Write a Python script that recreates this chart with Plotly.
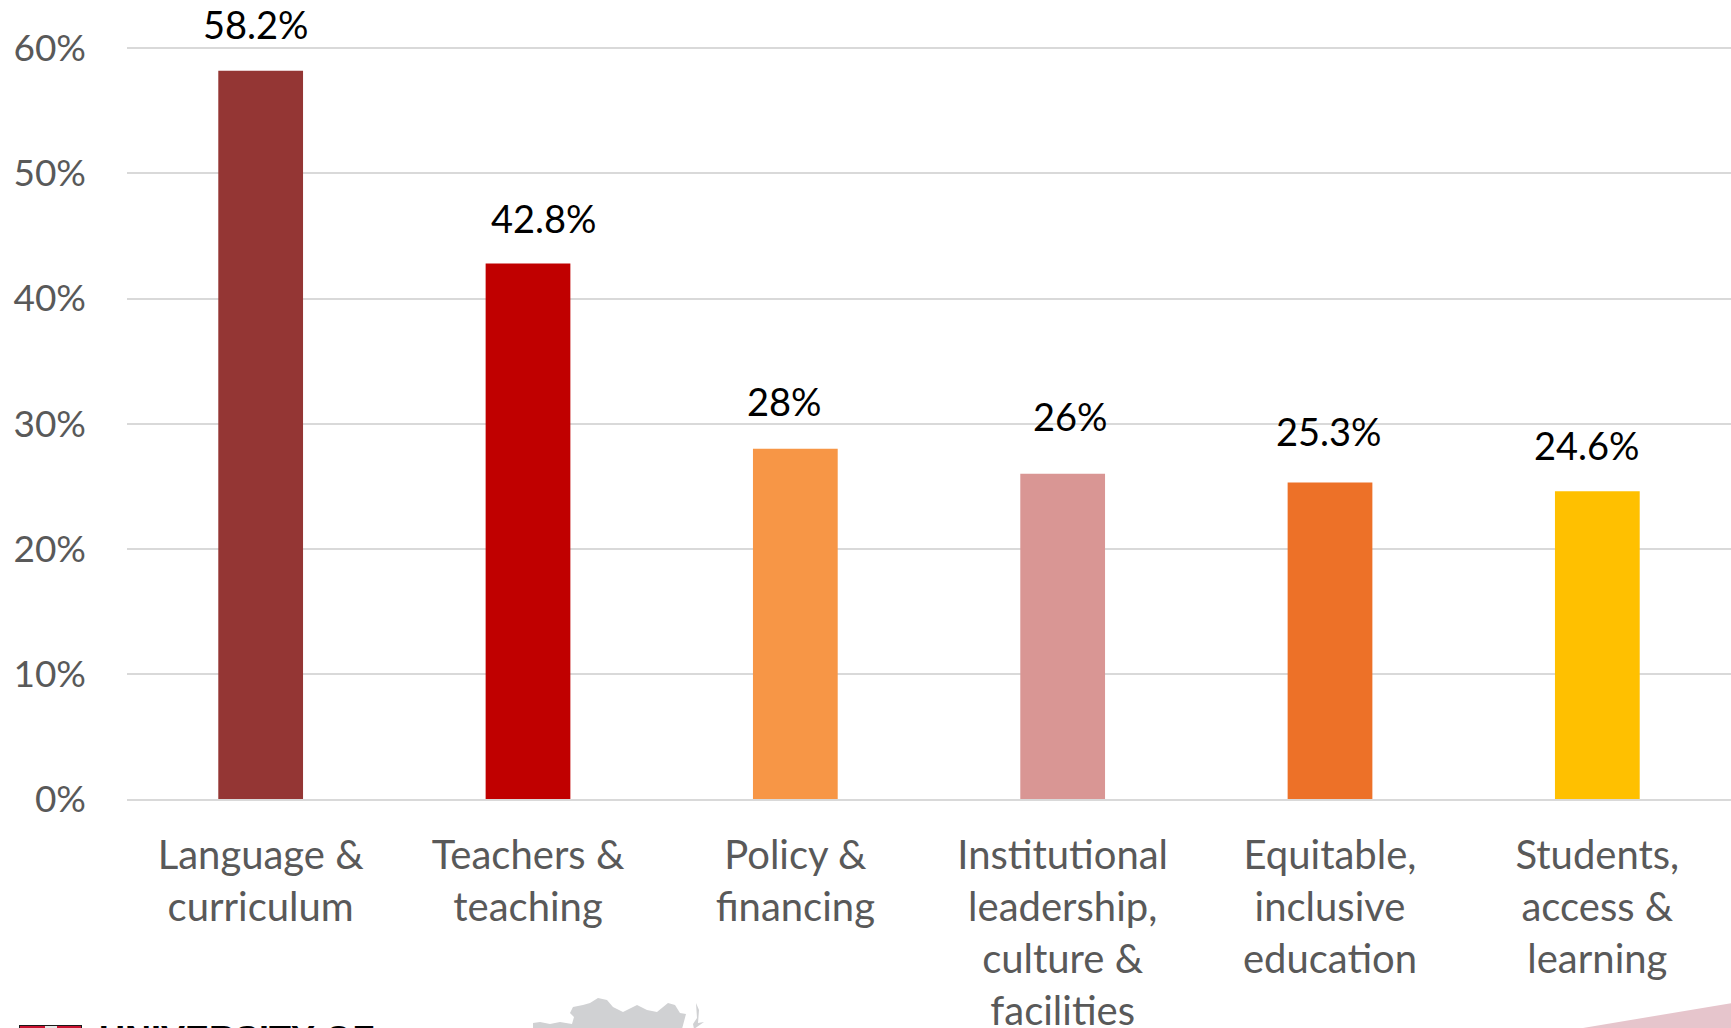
import plotly.graph_objects as go

categories = [
    "Language &<br>curriculum",
    "Teachers &<br>teaching",
    "Policy &<br>financing",
    "Institutional<br>leadership,<br>culture &<br>facilities",
    "Equitable,<br>inclusive<br>education",
    "Students,<br>access &<br>learning",
]
values = [58.2, 42.8, 28, 26, 25.3, 24.6]
value_labels = ["58.2%", "42.8%", "28%", "26%", "25.3%", "24.6%"]
bar_colors = ["#943634", "#C00000", "#F79646", "#D99694", "#ED7128", "#FFC000"]
y_ticks = [0, 10, 20, 30, 40, 50, 60]
y_tick_labels = ["0%", "10%", "20%", "30%", "40%", "50%", "60%"]

# labels were hand-dragged in the original, so they sit a bit off the bars
label_xshift = [-5, 16, -11, 8, -1, -10]
label_yshift = [22, 20, 23, 33, 26, 21]

FONT = "Lato"

# plot area edges in page pixels, used for the cropped slide bits below
PLOT_L, PLOT_R, PLOT_T, PLOT_B = 127, 1731, 47, 799


def px(x, y):
    return (x - PLOT_L) / (PLOT_R - PLOT_L), (PLOT_B - y) / (PLOT_B - PLOT_T)


def poly(points):
    coords = [px(x, y) for x, y in points]
    return "M " + " L ".join(f"{a:.5f} {b:.5f}" for a, b in coords) + " Z"


def box(x0, y0, x1, y1, color):
    a0, b0 = px(x0, y0)
    a1, b1 = px(x1, y1)
    fig.add_shape(type="rect", xref="paper", yref="paper", x0=a0, y0=b0, x1=a1, y1=b1,
                  fillcolor=color, line_width=0)


fig = go.Figure()

fig.add_trace(go.Bar(
    x=categories,
    y=values,
    width=0.317,
    marker_color=bar_colors,
    marker_line_width=0,
))

for i, v in enumerate(values):
    fig.add_annotation(
        x=categories[i], y=v, text=value_labels[i], showarrow=False,
        yanchor="bottom", xshift=label_xshift[i], yshift=label_yshift[i],
        font=dict(family=FONT, size=38, color="#000000"),
    )

# cropped bits of the slide along the bottom edge: map, corner wedge, logo
map_outline = [(533, 1023), (540, 1022), (550, 1024), (560, 1022), (572, 1024), (574, 1017),
               (570, 1013), (573, 1007), (583, 1005), (590, 1003), (598, 998), (607, 1000),
               (613, 1007), (623, 1012), (637, 1005), (647, 1010), (657, 1012), (668, 1003),
               (675, 1005), (680, 1013), (686, 1014), (682, 1029), (533, 1029)]
map_sliver = [(696, 1003), (699, 1010), (698, 1023), (704, 1022), (694, 1029), (693, 1024), (697, 1018)]
wedge = [(1577, 1029), (1732, 1003), (1732, 1029)]
for shape_points, shape_color in [(map_outline, "#D0D1D3"), (map_sliver, "#D0D1D3"), (wedge, "#E6C5CC")]:
    fig.add_shape(type="path", xref="paper", yref="paper", path=poly(shape_points),
                  fillcolor=shape_color, line_width=0)

box(19, 1025, 82, 1029, "#1A1A1A")
box(20, 1026, 81, 1029, "#C8102E")
box(45, 1026, 57, 1029, "#E8E8E8")

logo_x, logo_y = px(97, 1017)
fig.add_annotation(
    xref="paper", yref="paper", x=logo_x, y=logo_y, text="<b>UNIVERSITY OF</b>",
    showarrow=False, xanchor="left", yanchor="top",
    font=dict(family="Liberation Sans", size=36, color="#000000"),
)

fig.update_layout(
    width=1731,
    height=1028,
    showlegend=False,
    plot_bgcolor="#FFFFFF",
    paper_bgcolor="#FFFFFF",
    margin=dict(l=PLOT_L, r=1731 - PLOT_R, t=PLOT_T, b=1028 - PLOT_B, autoexpand=False),
    font=dict(family=FONT, color="#595959"),
    xaxis=dict(
        range=[-0.5, 5.5],
        showgrid=False,
        showline=True,
        linecolor="#D9D9D9",
        linewidth=2,
        ticks="",
        ticklabelstandoff=20,
        tickfont=dict(size=40, color="#595959"),
    ),
    yaxis=dict(
        range=[0, 60.1],
        tickvals=y_ticks,
        ticktext=y_tick_labels,
        gridcolor="#D9D9D9",
        gridwidth=2,
        zeroline=False,
        ticklabelstandoff=40,
        tickfont=dict(size=37, color="#595959"),
    ),
)

fig.write_html(
    "out.html",
    config=dict(displayModeBar=False),
    post_script="document.body.style.margin='0';document.body.style.overflow='hidden';",
)
